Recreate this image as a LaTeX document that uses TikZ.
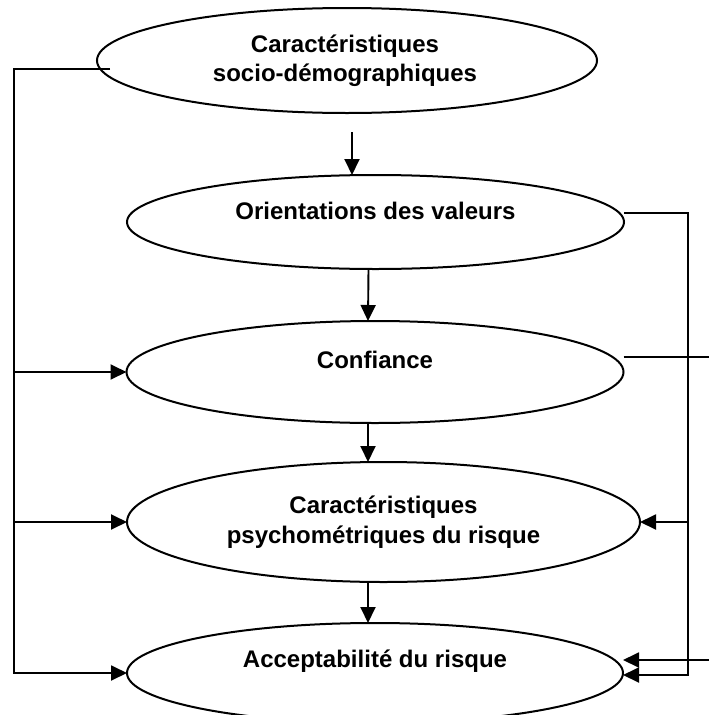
\documentclass[tikz,border=0pt]{standalone}
\usepackage{fontspec}
\setmainfont{Liberation Sans}
\usepackage{tikz}
\usetikzlibrary{arrows.meta, positioning, shapes.geometric, calc}

\begin{document}
\begin{tikzpicture}[
    x=1pt, y=-1pt,
    oval/.style={
      ellipse,
      draw=black,
      line width=2pt,
      inner sep=0pt,
      outer sep=0pt,
    },
    caption/.style={
      align=center,
      inner sep=0pt,
      font=\bfseries\fontsize{24}{29}\selectfont,
    },
    link/.style={line width=1.9pt},
    arrow/.style={link, -{Triangle[length=16pt,width=15pt]}},
  ]
    \useasboundingbox (0,0) rectangle (709,715);

    % ellipses
    \node[oval, minimum width=500pt, minimum height=105pt] (socio) at (347,60.5) {};
    \node[oval, minimum width=497pt, minimum height=94pt] (valeurs) at (375.5,222) {};
    \node[oval, minimum width=497pt, minimum height=102pt] (confiance) at (375,372) {};
    \node[oval, minimum width=513pt, minimum height=120pt] (psycho) at (383.5,522) {};
    \node[oval, minimum width=496pt, minimum height=100pt] (accept) at (375,673) {};

    % texts
    \node[caption] (socio-txt) at ([xshift=-2pt]socio.center) {Caractéristiques\\socio-démographiques};
    \node[caption, anchor=base] (valeurs-txt) at ([yshift=3pt]valeurs.center) {Orientations des valeurs};
    \node[caption, anchor=base] (confiance-txt) at ([yshift=4pt]confiance.center) {Confiance};
    \node[caption, font=\bfseries\fontsize{24}{30}\selectfont] (psycho-txt) at (psycho.center) {Caractéristiques\\psychométriques du risque};
    \node[caption, anchor=base] (accept-txt) at ([yshift=6pt]accept.center) {Acceptabilité du risque};

    % buses
    \coordinate (lbus) at (14,0);
    \coordinate (rbus) at (688,0);
    \coordinate (xbus) at (716,0);
    \coordinate (acc-hi) at ([yshift=13pt]accept.east);
    \coordinate (acc-lo) at ([yshift=-2pt]accept.east);
    \coordinate (a1) at ([xshift=5pt,yshift=-19pt]socio.south);

    % vertical chain
    \draw[arrow] (a1) -- (a1 |- valeurs.north);
    \draw[arrow] ([xshift=-7pt]valeurs.south) -- ([xshift=-7pt]confiance.north);
    \draw[arrow] ([xshift=-7pt]confiance.south) -- ([xshift=-7pt]confiance.south |- psycho.north);
    \draw[arrow] ([xshift=-7pt]confiance.south |- psycho.south) -- ([xshift=-7pt]accept.north);

    % left side
    \draw[arrow] ([xshift=13pt,yshift=-8.5pt]socio.west) -| (lbus |- accept.west) -- (accept.west);
    \draw[arrow] (lbus |- confiance.west) -- (confiance.west);
    \draw[arrow] (lbus |- psycho.west) -- (psycho.west);

    % right side
    \draw[arrow] ([yshift=9pt]valeurs.east) -| (rbus |- acc-lo) -- (acc-lo);
    \draw[arrow] (rbus |- psycho.east) -- (psycho.east);
    \draw[arrow] ([yshift=15pt]confiance.east) -| (xbus |- acc-hi) -- (acc-hi);
  \end{tikzpicture}
\end{document}
